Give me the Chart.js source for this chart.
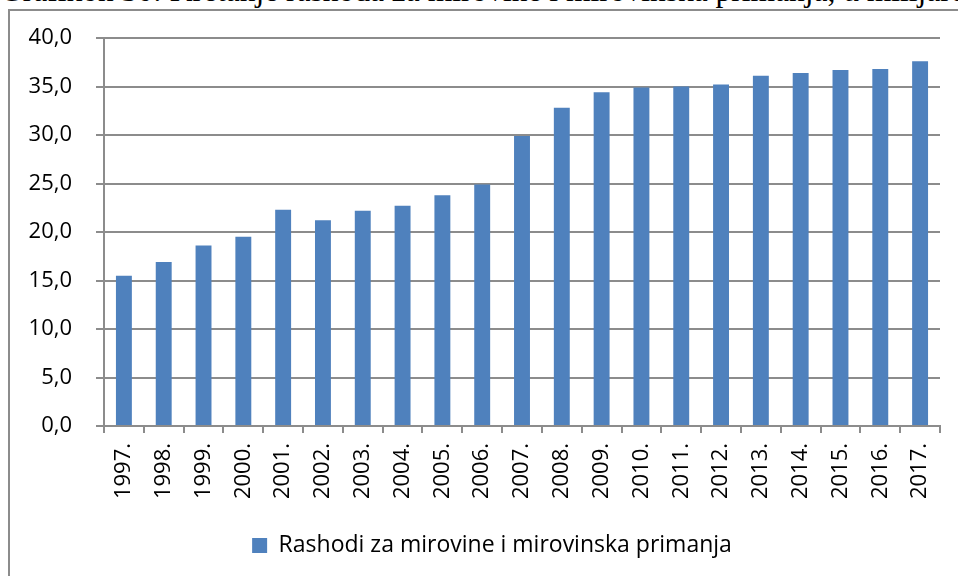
<!DOCTYPE html>
<html>
<head>
<meta charset="utf-8">
<script src="https://cdn.jsdelivr.net/npm/chart.js@4.4.1/dist/chart.umd.min.js"></script>
<style>
  html, body { margin: 0; padding: 0; background: #fff; overflow: hidden; }
  #wrap { position: relative; width: 958px; height: 576px; overflow: hidden; }
  #naslov {
    position: absolute; left: 0; top: -26px; white-space: nowrap; line-height: 1.107;
    font-family: "Liberation Serif", "Times New Roman", serif; font-size: 31.5px; color: #000;
  }
  #okvir {
    position: absolute; left: 8px; top: 9px; width: 1000px; height: 600px;
    border-left: 2px solid #8c8c8c; border-top: 2px solid #8c8c8c;
  }
  #grafikon { position: absolute; left: 0; top: 0; }
</style>
</head>
<body>
<div id="wrap">
  <div id="naslov">Grafikon 30: Kretanje rashoda za mirovine i mirovinska primanja, u milijardama kuna</div>
  <div id="okvir"></div>
  <canvas id="grafikon" width="958" height="576"></canvas>
</div>
<script>
const godine = ['1997.', '1998.', '1999.', '2000.', '2001.', '2002.', '2003.', '2004.', '2005.', '2006.', '2007.',
    '2008.', '2009.', '2010.', '2011.', '2012.', '2013.', '2014.', '2015.', '2016.', '2017.'];
const rashodi = [15.5, 16.9, 18.6, 19.5, 22.3, 21.2, 22.2, 22.7, 23.8, 24.9, 29.9,
    32.8, 34.4, 34.9, 35.0, 35.2, 36.1, 36.4, 36.7, 36.8, 37.6];
const nazivSerije = 'Rashodi za mirovine i mirovinska primanja';
const yMin = 0;
const yMax = 40;
const yKorak = 5;

const sivaLinija = '#8c8c8c';
const pismo = '"Open Sans", "Noto Sans", sans-serif';

// legenda je u izvorniku malo desno od sredine
const pomakLegende = {
    id: 'pomakLegende',
    afterLayout(chart) {
        const leg = chart.legend;
        if (leg) {
            leg.left += 22;
            leg.right += 22;
        }
    }
};

const canvas = document.getElementById('grafikon');
const config = {
    type: 'bar',
    data: {
        labels: godine,
        datasets: [{
            label: nazivSerije,
            data: rashodi,
            backgroundColor: '#4f81bd',
            borderWidth: 0,
            categoryPercentage: 1.0,
            barPercentage: 0.4,
        }]
    },
    options: {
        responsive: false,
        animation: false,
        layout: {
            padding: { left: 0, top: 38, right: 18, bottom: 9 }
        },
        scales: {
            x: {
                grid: {
                    offset: true,
                    drawOnChartArea: false,
                    drawTicks: true,
                    tickLength: 7,
                    color: sivaLinija,
                    lineWidth: 2,
                },
                border: { color: sivaLinija, width: 2 },
                ticks: {
                    minRotation: 90,
                    maxRotation: 90,
                    autoSkip: false,
                    padding: 10,
                    color: '#000',
                    font: { family: pismo, size: 22 },
                },
                afterFit: (scale) => { scale.height = 98; },
            },
            y: {
                min: yMin,
                max: yMax,
                grid: {
                    color: sivaLinija,
                    lineWidth: 2,
                    drawTicks: true,
                    tickLength: 8,
                },
                border: { color: sivaLinija, width: 2 },
                ticks: {
                    stepSize: yKorak,
                    padding: 24,
                    color: '#000',
                    font: { family: pismo, size: 22 },
                    callback: (v) => v.toFixed(1).replace('.', ','),
                },
                afterFit: (scale) => { scale.width = 104; },
            }
        },
        plugins: {
            legend: {
                display: true,
                position: 'bottom',
                labels: {
                    color: '#000',
                    font: { family: pismo, size: 23 },
                    boxWidth: 15,
                    boxHeight: 15,
                    padding: 10,
                },
            },
            tooltip: { enabled: false },
        },
    },
    plugins: [pomakLegende],
};
const grafikon = new Chart(canvas, config);
</script>
</body>
</html>
